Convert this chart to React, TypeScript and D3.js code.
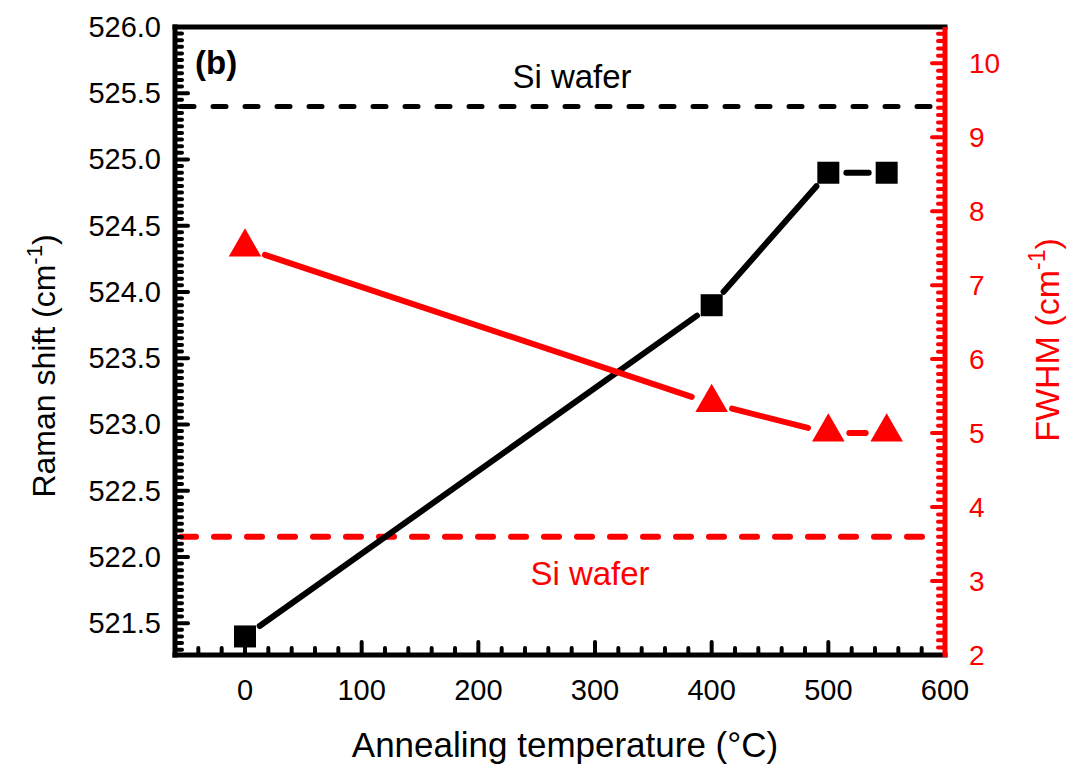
import * as d3 from "d3";
import { useEffect, useRef } from "react";

const temps = [0, 400, 500, 550];
const ramanShift = [521.4, 523.9, 524.9, 524.9];
const fwhm = [7.5, 5.4, 5.0, 5.0];
const siRaman = 525.4;
const siFwhm = 3.6;
const xTicks = [0, 100, 200, 300, 400, 500, 600];
const leftTicks = [521.5, 522.0, 522.5, 523.0, 523.5, 524.0, 524.5, 525.0, 525.5, 526.0];
const rightTicks = [2, 3, 4, 5, 6, 7, 8, 9, 10];

const W = 1067;
const H = 770;
const margin = { top: 27, bottom: 115, left: 175, right: 122 };
const RED = "#ff0000";
const FONT = "Liberation Sans, Arial, sans-serif";

const App = () => {
    const ref = useRef(null);

    useEffect(() => {
        const svg = d3.select(ref.current);
        svg.selectAll("*").remove();

        const x0 = margin.left, x1 = W - margin.right;
        const y0 = margin.top, y1 = H - margin.bottom;

        const x = d3.scaleLinear().domain([-60, 600]).range([x0, x1]);
        const yL = d3.scaleLinear().domain([521.26, 526]).range([y1, y0]);
        const yR = d3.scaleLinear().domain([2, 10.49]).range([y1, y0]);

        // reference lines (Si wafer)
        svg.append("line")
            .attr("x1", x0 + 6).attr("x2", x1 - 6)
            .attr("y1", yL(siRaman)).attr("y2", yL(siRaman))
            .attr("stroke", "#000").attr("stroke-width", 5)
            .attr("stroke-dasharray", "13 19").attr("stroke-linecap", "round");
        svg.append("line")
            .attr("x1", x0 + 6).attr("x2", x1 - 6)
            .attr("y1", yR(siFwhm)).attr("y2", yR(siFwhm))
            .attr("stroke", RED).attr("stroke-width", 6)
            .attr("stroke-dasharray", "15 18").attr("stroke-linecap", "round");

        // series, line broken around each marker
        const drawSeries = (vals, ys, color, gap) => {
            const pts = temps.map((t, i) => [x(t), ys(vals[i])]);
            for (let i = 0; i < pts.length - 1; i++) {
                const [ax, ay] = pts[i];
                const [bx, by] = pts[i + 1];
                const len = Math.hypot(bx - ax, by - ay);
                const ux = (bx - ax) / len, uy = (by - ay) / len;
                svg.append("line")
                    .attr("x1", ax + ux * gap).attr("y1", ay + uy * gap)
                    .attr("x2", bx - ux * gap).attr("y2", by - uy * gap)
                    .attr("stroke", color).attr("stroke-width", 6)
                    .attr("stroke-linecap", "round");
            }
            return pts;
        };

        const sq = drawSeries(ramanShift, yL, "#000", 18);
        const tri = drawSeries(fwhm, yR, RED, 21);

        svg.selectAll(".sq").data(sq).enter().append("rect")
            .attr("x", d => d[0] - 11).attr("y", d => d[1] - 11)
            .attr("width", 22).attr("height", 22).attr("fill", "#000");

        const triPath = d3.symbol().type(d3.symbolTriangle).size(460);
        svg.selectAll(".tri").data(tri).enter().append("path")
            .attr("d", triPath)
            .attr("transform", d => `translate(${d[0]},${d[1] - 1})`)
            .attr("fill", RED);

        // frame
        const frameW = 5;
        svg.append("line").attr("x1", x0).attr("x2", x1).attr("y1", y0).attr("y2", y0)
            .attr("stroke", "#000").attr("stroke-width", frameW).attr("stroke-linecap", "square");
        svg.append("line").attr("x1", x0).attr("x2", x1).attr("y1", y1).attr("y2", y1)
            .attr("stroke", "#000").attr("stroke-width", frameW).attr("stroke-linecap", "square");
        svg.append("line").attr("x1", x0).attr("x2", x0).attr("y1", y0).attr("y2", y1)
            .attr("stroke", "#000").attr("stroke-width", frameW).attr("stroke-linecap", "square");
        svg.append("line").attr("x1", x1).attr("x2", x1).attr("y1", y0).attr("y2", y1 + 2)
            .attr("stroke", RED).attr("stroke-width", frameW);

        // inward ticks
        const tickW = 4;
        d3.range(-40, 600, 20).forEach(v => {
            const major = v % 100 === 0;
            svg.append("line").attr("x1", x(v)).attr("x2", x(v))
                .attr("y1", y1).attr("y2", y1 - (major ? 13 : 7))
                .attr("stroke", "#000").attr("stroke-width", tickW).attr("stroke-linecap", "round");
        });
        d3.range(0, 100).map(i => 521.3 + i * 0.05).forEach(v => {
            if (v > 526 - 0.01) return;
            const major = Math.abs(v * 2 - Math.round(v * 2)) < 0.01;
            svg.append("line").attr("x1", x0).attr("x2", x0 + (major ? 13 : 7))
                .attr("y1", yL(v)).attr("y2", yL(v))
                .attr("stroke", "#000").attr("stroke-width", tickW).attr("stroke-linecap", "round");
        });
        d3.range(1, 85).map(i => 2 + i * 0.1).forEach(v => {
            if (v > 10.45) return;
            const major = Math.abs(v - Math.round(v)) < 0.01;
            svg.append("line").attr("x1", x1).attr("x2", x1 - (major ? 13 : 7))
                .attr("y1", yR(v)).attr("y2", yR(v))
                .attr("stroke", RED).attr("stroke-width", tickW).attr("stroke-linecap", "round");
        });

        // tick labels
        svg.selectAll(".xl").data(xTicks).enter().append("text")
            .attr("x", d => x(d)).attr("y", y1 + 45)
            .attr("text-anchor", "middle").attr("font-family", FONT).attr("font-size", 29)
            .text(d => d);
        svg.selectAll(".yl").data(leftTicks).enter().append("text")
            .attr("x", x0 - 14).attr("y", d => yL(d) + 10)
            .attr("text-anchor", "end").attr("font-family", FONT).attr("font-size", 29)
            .text(d => d.toFixed(1));
        svg.selectAll(".yr").data(rightTicks).enter().append("text")
            .attr("x", x1 + 24).attr("y", d => yR(d) + 10)
            .attr("text-anchor", "start").attr("font-family", FONT).attr("font-size", 28)
            .attr("fill", RED)
            .text(d => d);

        // axis titles
        svg.append("text")
            .attr("x", 565).attr("y", 757)
            .attr("text-anchor", "middle").attr("font-family", FONT).attr("font-size", 35)
            .text("Annealing temperature (°C)");

        const leftT = svg.append("text")
            .attr("transform", `translate(55, 366) rotate(-90)`)
            .attr("text-anchor", "middle").attr("font-family", FONT).attr("font-size", 32);
        leftT.append("tspan").text("Raman shift (cm");
        leftT.append("tspan").attr("dy", -13).attr("font-size", 22).text("-1");
        leftT.append("tspan").attr("dy", 13).text(")");

        const rightT = svg.append("text")
            .attr("transform", `translate(1059, 340) rotate(-90)`)
            .attr("text-anchor", "middle").attr("font-family", FONT).attr("font-size", 34)
            .attr("fill", RED);
        rightT.append("tspan").text("FWHM (cm");
        rightT.append("tspan").attr("dy", -14).attr("font-size", 23).text("-1");
        rightT.append("tspan").attr("dy", 14).text(")");

        // annotations
        svg.append("text").attr("x", 195).attr("y", 74)
            .attr("font-family", FONT).attr("font-size", 33).attr("font-weight", "bold")
            .text("(b)");
        svg.append("text").attr("x", 572).attr("y", 88)
            .attr("text-anchor", "middle").attr("font-family", FONT).attr("font-size", 33)
            .text("Si wafer");
        svg.append("text").attr("x", 590).attr("y", 585)
            .attr("text-anchor", "middle").attr("font-family", FONT).attr("font-size", 33)
            .attr("fill", RED)
            .text("Si wafer");
    }, []);

    return (
        <svg ref={ref} width={W} height={H}
            style={{ position: "absolute", left: 0, top: 0, background: "#fff" }}>
        </svg>
    );
};

export default App;
